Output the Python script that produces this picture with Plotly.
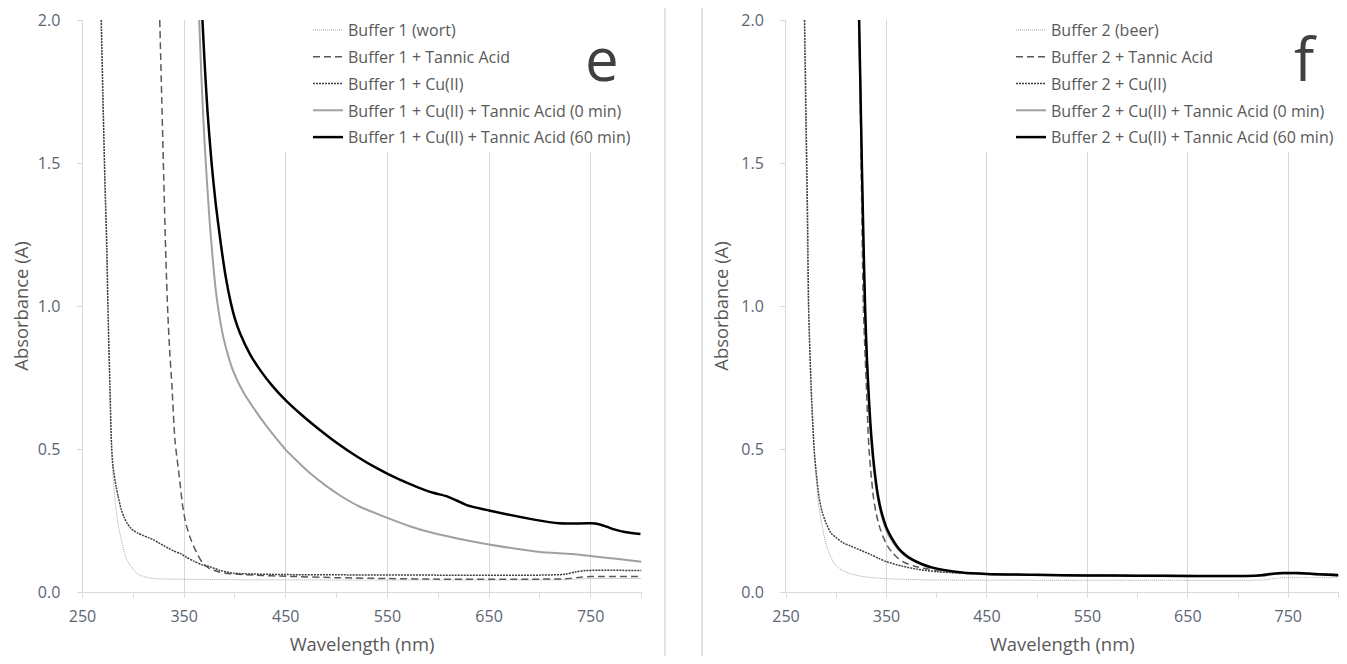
import plotly.graph_objects as go

# ---------------- Panel e (Buffer 1, wort) ----------------
wort_e_x = [268, 270, 272, 274, 275, 277, 278.5, 280, 282, 285, 288, 291, 294, 298, 302, 306, 312, 318, 325, 340, 400, 500, 600, 700, 725, 740, 750, 800]
wort_e_y = [2.0, 1.7, 1.4, 1.13, 1.0, 0.68, 0.5, 0.41, 0.32, 0.24, 0.185, 0.14, 0.11, 0.088, 0.07, 0.06, 0.052, 0.048, 0.046, 0.045, 0.043, 0.042, 0.042, 0.042, 0.043, 0.046, 0.047, 0.047]

tannic_e_x = [326, 328, 330, 332, 334, 336, 338, 341, 345, 348.6, 352, 357, 362, 368.5, 375, 385, 395, 420, 450, 500, 550, 600, 700, 725, 740, 750, 800]
tannic_e_y = [2.0, 1.72, 1.44, 1.17, 0.97, 0.83, 0.72, 0.53, 0.41, 0.3, 0.235, 0.18, 0.14, 0.1, 0.082, 0.07, 0.064, 0.059, 0.055, 0.05, 0.047, 0.045, 0.045, 0.046, 0.052, 0.054, 0.054]

cu_e_x = [268.5, 270, 272, 274, 275, 277, 278.5, 280, 283, 285, 288, 291, 294, 297, 300, 305, 310, 315, 320, 325, 330, 335, 340, 346, 352, 360, 368, 375.5, 385, 398, 450, 500, 600, 700, 725, 735, 745, 800]
cu_e_y = [2.0, 1.75, 1.45, 1.2, 1.0, 0.72, 0.52, 0.44, 0.37, 0.335, 0.29, 0.26, 0.24, 0.225, 0.215, 0.205, 0.197, 0.19, 0.182, 0.172, 0.162, 0.152, 0.143, 0.135, 0.122, 0.107, 0.095, 0.088, 0.076, 0.066, 0.061, 0.06, 0.059, 0.059, 0.062, 0.07, 0.075, 0.075]

ta0_e_x = [364.8, 367, 369.5, 372, 375, 378, 381, 384, 388, 393, 398, 408, 418, 430, 441, 450, 462, 474, 490, 505, 523, 550, 572, 595, 620, 650, 675, 700, 732, 750, 775, 800]
ta0_e_y = [2.0, 1.8, 1.61, 1.46, 1.3, 1.17, 1.06, 0.98, 0.9, 0.83, 0.775, 0.7, 0.645, 0.585, 0.535, 0.497, 0.455, 0.415, 0.37, 0.334, 0.298, 0.259, 0.23, 0.206, 0.186, 0.166, 0.152, 0.14, 0.133, 0.126, 0.116, 0.106]

ta60_e_x = [368, 370, 373, 377, 381, 386, 391, 396, 400, 405, 415, 425, 437, 450, 466, 482, 500, 520, 540, 560, 580, 595, 608, 618, 628, 650, 693, 719, 750, 758, 766, 774, 785, 799]
ta60_e_y = [2.0, 1.86, 1.68, 1.5, 1.36, 1.22, 1.1, 1.01, 0.955, 0.905, 0.83, 0.775, 0.72, 0.67, 0.618, 0.571, 0.522, 0.474, 0.432, 0.396, 0.366, 0.347, 0.335, 0.32, 0.304, 0.285, 0.254, 0.24, 0.24, 0.237, 0.228, 0.218, 0.209, 0.203]

# ---------------- Panel f (Buffer 2, beer) ----------------
beer_f_x = [268, 269, 270, 271, 272.3, 274, 276, 278, 280, 282, 285, 288, 291, 295, 299, 305, 315, 325, 340, 360, 400, 500, 600, 700, 725, 740, 760, 800]
beer_f_y = [2.0, 1.75, 1.5, 1.25, 1.0, 0.8, 0.62, 0.5, 0.4, 0.32, 0.25, 0.195, 0.155, 0.12, 0.095, 0.078, 0.063, 0.055, 0.049, 0.045, 0.042, 0.041, 0.041, 0.041, 0.042, 0.049, 0.05, 0.05]

tannic_f_x = [322.8, 324, 325, 326, 327, 328.5, 330, 331.5, 332.6, 335, 337, 340, 343.4, 347, 351.6, 356, 361.5, 368, 378, 390, 400, 425, 450, 500, 600, 700, 725, 740, 760, 800]
tannic_f_y = [2.0, 1.7, 1.45, 1.2, 1.0, 0.85, 0.72, 0.58, 0.5, 0.4, 0.332, 0.27, 0.225, 0.19, 0.158, 0.137, 0.118, 0.103, 0.09, 0.081, 0.076, 0.068, 0.062, 0.059, 0.057, 0.056, 0.057, 0.064, 0.064, 0.06]

cu_f_x = [268.5, 270, 271.5, 272.5, 275, 278, 280, 283, 286, 290, 295, 300, 307, 315, 325, 335, 342, 350, 365, 380, 400, 425, 450, 500, 600, 700, 725, 740, 760, 800]
cu_f_y = [2.0, 1.65, 1.3, 1.0, 0.72, 0.5, 0.42, 0.33, 0.28, 0.24, 0.205, 0.19, 0.172, 0.16, 0.145, 0.13, 0.118, 0.106, 0.091, 0.08, 0.071, 0.066, 0.063, 0.06, 0.058, 0.057, 0.058, 0.066, 0.066, 0.062]

ta0_f_x = [322.5, 324, 325.5, 327, 328.5, 330.5, 332.5, 334, 336, 339, 341.8, 345, 350, 355, 361.5, 368, 375, 385, 395, 407, 425, 450, 500, 600, 700, 720, 735, 745, 760, 780, 800]
ta0_f_y = [2.0, 1.76, 1.48, 1.22, 0.98, 0.8, 0.66, 0.57, 0.48, 0.385, 0.32, 0.27, 0.215, 0.182, 0.15, 0.128, 0.112, 0.096, 0.084, 0.075, 0.067, 0.062, 0.059, 0.056, 0.055, 0.057, 0.063, 0.065, 0.065, 0.061, 0.058]

ta60_f_x = [322.8, 324, 325.5, 327, 328.7, 330.5, 332.5, 334, 336, 339, 341.8, 345, 350, 355, 361.5, 368, 375, 385, 395, 407, 425, 450, 500, 550, 600, 650, 700, 720, 735, 745, 760, 780, 800]
ta60_f_y = [2.0, 1.78, 1.5, 1.25, 1.0, 0.82, 0.68, 0.59, 0.5, 0.4, 0.332, 0.28, 0.225, 0.19, 0.155, 0.132, 0.115, 0.098, 0.086, 0.077, 0.068, 0.063, 0.06, 0.058, 0.057, 0.056, 0.056, 0.058, 0.064, 0.066, 0.066, 0.062, 0.059]

names_e = ["Buffer 1 (wort)", "Buffer 1 + Tannic Acid", "Buffer 1 + Cu(II)",
           "Buffer 1 + Cu(II) + Tannic Acid (0 min)", "Buffer 1 + Cu(II) + Tannic Acid (60 min)"]
names_f = ["Buffer 2 (beer)", "Buffer 2 + Tannic Acid", "Buffer 2 + Cu(II)",
           "Buffer 2 + Cu(II) + Tannic Acid (0 min)", "Buffer 2 + Cu(II) + Tannic Acid (60 min)"]

x_ticks = [250, 350, 450, 550, 650, 750]
y_ticks = [0.0, 0.5, 1.0, 1.5, 2.0]

styles = [
    dict(color="#a6a6a6", width=1, dash="1px,1px"),
    dict(color="#595959", width=1.5, dash="7px,4px"),
    dict(color="#404040", width=1.5, dash="2px,1px"),
    dict(color="#a0a0a0", width=2),
    dict(color="#000000", width=2.5),
]

# page is 1347x664; the html body adds an 8px margin on every side
OFF = 8
W, H = 1347 - 2 * OFF, 664 - 2 * OFF
FONT = "Open Sans"
TXT = "#595959"
TICKC = "#5b6575"
GRID = "#d9d9d9"

fig = go.Figure()
series_e = [(wort_e_x, wort_e_y), (tannic_e_x, tannic_e_y), (cu_e_x, cu_e_y), (ta0_e_x, ta0_e_y), (ta60_e_x, ta60_e_y)]
series_f = [(beer_f_x, beer_f_y), (tannic_f_x, tannic_f_y), (cu_f_x, cu_f_y), (ta0_f_x, ta0_f_y), (ta60_f_x, ta60_f_y)]

for i, ((xs, ys), nm) in enumerate(zip(series_e, names_e)):
    fig.add_trace(go.Scatter(x=xs, y=ys, name=nm, mode="lines", line=dict(styles[i], shape="spline", smoothing=0.7),
                             xaxis="x", yaxis="y", legend="legend", legendgroup="e%d" % i))
for i, ((xs, ys), nm) in enumerate(zip(series_f, names_f)):
    fig.add_trace(go.Scatter(x=xs, y=ys, name=nm, mode="lines", line=dict(styles[i], shape="spline", smoothing=0.7),
                             xaxis="x2", yaxis="y2", legend="legend2", legendgroup="f%d" % i))

def px_x(p):
    return min(1.0, (p - OFF) / W)

def px_y(p):
    return max(0.0, 1 - (p - OFF) / H)

ydom = [px_y(592), px_y(20)]

def xax(dom, anchor):
    return dict(domain=dom, anchor=anchor, range=[250, 800], tickvals=x_ticks,
                ticks="outside", ticklen=5, tickcolor=GRID, showline=True, linecolor=GRID,
                linewidth=1, showgrid=True, gridcolor=GRID, gridwidth=1, zeroline=False,
                tickfont=dict(family=FONT, size=16, color=TICKC), ticklabelstandoff=5,
                minor=dict(dtick=50, tick0=250, ticks="outside", ticklen=5, tickcolor=GRID, showgrid=False),
                title=dict(text="Wavelength (nm)", font=dict(family=FONT, size=18.4, color=TXT), standoff=24),
                automargin=False, fixedrange=True)

def yax(anchor):
    return dict(domain=ydom, anchor=anchor, range=[0, 2.0], tickvals=y_ticks, tickformat=".1f",
                ticks="outside", ticklen=5, tickcolor=GRID, showline=True, linecolor=GRID,
                linewidth=1, showgrid=False, zeroline=False,
                tickfont=dict(family=FONT, size=16, color=TICKC), ticklabelstandoff=13,
                title=dict(text="Absorbance (A)", font=dict(family=FONT, size=18.4, color=TXT), standoff=7),
                automargin=False, fixedrange=True)

legfont = dict(family=FONT, size=16, color=TXT)

fig.update_layout(
    width=W, height=H,
    margin=dict(l=0, r=0, t=0, b=0),
    paper_bgcolor="white", plot_bgcolor="white",
    xaxis=xax([px_x(82.5), px_x(641.5)], "y"),
    yaxis=yax("x"),
    xaxis2=xax([px_x(786), px_x(1338.5)], "y2"),
    yaxis2=yax("x2"),
    legend=dict(x=px_x(308), y=px_y(13), xanchor="left", yanchor="top", bgcolor="rgba(0,0,0,0)",
                font=legfont, tracegroupgap=3, itemwidth=30, traceorder="grouped"),
    legend2=dict(x=px_x(1011), y=px_y(13), xanchor="left", yanchor="top", bgcolor="rgba(0,0,0,0)",
                 font=legfont, tracegroupgap=3, itemwidth=30, traceorder="grouped"),
    showlegend=True,
)

# white masks hiding the gridlines behind each legend
for xr, yr in (("x", "y"), ("x2", "y2")):
    fig.add_shape(type="rect", xref=xr, yref=yr, x0=400, x1=800, y0=1.54, y1=2.0,
                  fillcolor="white", line=dict(width=0), layer="between")

# panel separators
for xp in (665, 702):
    fig.add_shape(type="line", xref="paper", yref="paper", x0=px_x(xp), x1=px_x(xp),
                  y0=0, y1=1, line=dict(color=GRID, width=1.5))

fig.add_annotation(text="e", xref="paper", yref="paper", x=px_x(602), y=px_y(58),
                   xanchor="center", yanchor="middle",
                   showarrow=False, font=dict(family=FONT, size=60, color="#404040"))
fig.add_annotation(text="f", xref="paper", yref="paper", x=px_x(1305), y=px_y(58),
                   xanchor="center", yanchor="middle",
                   showarrow=False, font=dict(family=FONT, size=60, color="#404040"))

fig.write_html("out.html")
